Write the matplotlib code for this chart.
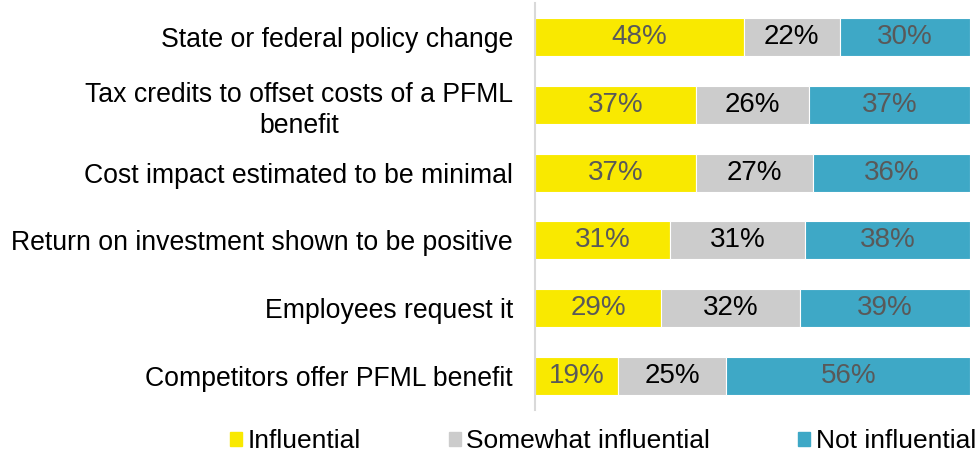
import matplotlib.pyplot as plt
from matplotlib.patches import Patch
import numpy as np

plt.rcParams['font.family'] = ['Liberation Sans', 'DejaVu Sans']

categories = ['State or federal policy change',
              'Tax credits to offset costs of a PFML\nbenefit',
              'Cost impact estimated to be minimal',
              'Return on investment shown to be positive',
              'Employees request it',
              'Competitors offer PFML benefit']
influential = [48, 37, 37, 31, 29, 19]
somewhat = [22, 26, 27, 31, 32, 25]
not_infl = [30, 37, 36, 38, 39, 56]

series = ['Influential', 'Somewhat influential', 'Not influential']
colors = ['#F9E900', '#CCCCCC', '#3EA8C6']
text_colors = ['#595959', '#000000', '#595959']

fig = plt.figure(figsize=(9.78, 4.58), dpi=100)
ax = fig.add_axes([535/978, 1 - 410/458, 435/978, 407/458])

y = np.arange(len(categories))
left = np.zeros(len(categories))
for vals, c, tc in zip([influential, somewhat, not_infl], colors, text_colors):
    vals = np.array(vals)
    ax.barh(y, vals, left=left, height=0.56, color=c, edgecolor='white', linewidth=0.8)
    for yi, l, v in zip(y, left, vals):
        ax.text(l + v / 2, yi, f'{v}%', ha='center', va='center', fontsize=20, color=tc)
    left += vals

ax.set_xlim(0, 100)
ax.set_ylim(5.5, -0.5)
ax.set_yticks(y)
ax.set_yticklabels(categories, fontsize=19.2, multialignment='center', linespacing=1.25)
ax.tick_params(axis='y', length=0, pad=16)
ax.set_xticks([])
for s in ['top', 'right', 'bottom']:
    ax.spines[s].set_visible(False)
ax.spines['left'].set_color('#D9D9D9')
ax.spines['left'].set_linewidth(1.5)

handles = [Patch(color=c, label=s) for c, s in zip(colors, series)]
fig.legend(handles=handles, loc='center', bbox_to_anchor=(603/978, 1 - 441/458), ncol=3,
           frameon=False, fontsize=19, handlelength=0.45, handleheight=0.45,
           handletextpad=0.2, columnspacing=3.35, borderpad=0)

fig.savefig('out.png', dpi=100)
